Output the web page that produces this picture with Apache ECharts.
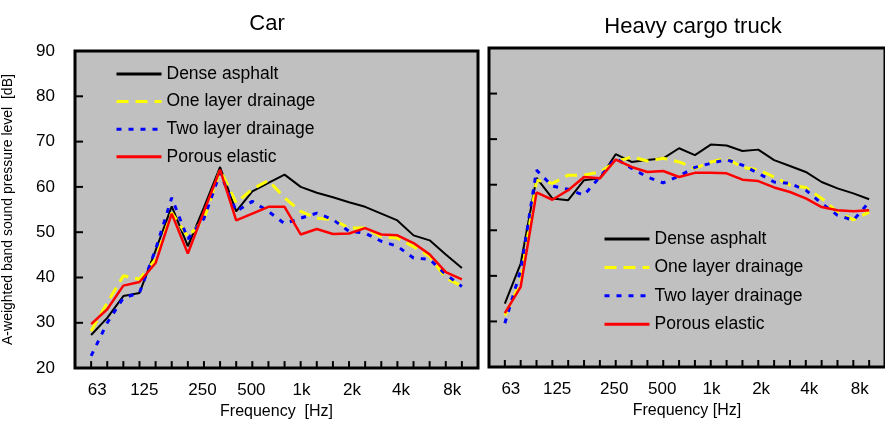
<!DOCTYPE html>
<html>
<head>
<meta charset="utf-8">
<script src="https://cdn.jsdelivr.net/npm/echarts@6/dist/echarts.min.js"></script>
<style>
  html, body { margin: 0; padding: 0; background: #fff; }
  #chart { width: 885px; height: 425px; }
</style>
</head>
<body>
<div id="chart"></div>
<script>
// 1/3-octave bands, 50 Hz .. 10 kHz
const bands = ['50', '63', '80', '100', '125', '160', '200', '250', '315', '400', '500', '630',
  '800', '1k', '1.25k', '1.6k', '2k', '2.5k', '3.15k', '4k', '5k', '6.3k', '8k', '10k'];
const tickLabels = ['63', '125', '250', '500', '1k', '2k', '4k', '8k'];
// the original labels sit a little off their bands (in band widths)
const labelShift = [-0.62, -0.7, -0.09, -0.06, 0.05, 0.18, 0.22, 0.4];
const yTicks = [30, 40, 50, 60, 70, 80];
const seriesNames = ['Dense asphalt', 'One layer drainage', 'Two layer drainage', 'Porous elastic'];

// Car
const carDense = [27.3, 31.1, 35.9, 36.6, 46.0, 55.7, 46.9, 55.5, 64.4, 54.6, 59.0, 60.9,
  62.7, 60.0, 58.7, 57.7, 56.6, 55.6, 54.1, 52.6, 49.3, 48.2, 45.1, 42.1];
const carOne = [28.2, 34.4, 40.4, 39.6, 44.0, 54.3, 49.0, 52.8, 63.8, 56.5, 59.5, 61.4,
  57.6, 54.6, 53.1, 52.8, 50.9, 50.9, 49.0, 48.7, 46.8, 44.7, 39.9, 38.1];
const carTwo = [22.7, 30.0, 35.5, 36.6, 46.2, 57.6, 48.5, 53.0, 63.1, 54.6, 56.8, 54.6,
  51.9, 53.1, 54.2, 52.8, 50.2, 49.8, 48.0, 46.9, 44.3, 44.0, 40.7, 38.0];
const carPorous = [29.7, 33.0, 38.2, 39.0, 43.2, 54.1, 45.3, 54.6, 63.8, 52.6, 54.1, 55.6,
  55.6, 49.5, 50.7, 49.6, 49.7, 50.9, 49.5, 49.3, 47.6, 45.1, 41.2, 39.6];

// Heavy cargo truck
const truckDense = [33.9, 42.7, 61.5, 57.0, 56.6, 61.0, 61.4, 66.7, 65.0, 65.4, 65.8, 68.0,
  66.5, 68.8, 68.6, 67.4, 67.7, 65.4, 64.1, 62.8, 60.6, 59.2, 58.1, 56.8];
const truckOne = [31.3, 38.6, 61.0, 60.3, 62.1, 62.1, 62.8, 65.0, 66.1, 65.2, 65.8, 65.0,
  63.6, 65.0, 65.8, 63.8, 63.3, 61.7, 59.9, 59.4, 57.0, 54.0, 52.3, 54.0];
const truckTwo = [29.6, 41.2, 63.2, 59.7, 59.0, 57.7, 61.7, 65.8, 63.6, 61.7, 60.4, 61.9,
  63.8, 64.7, 65.5, 64.3, 62.5, 60.6, 60.3, 58.8, 55.9, 53.3, 52.2, 56.2];
const truckPorous = [31.8, 37.6, 58.3, 56.7, 58.8, 61.7, 61.4, 65.5, 63.9, 62.8, 63.0, 61.7,
  62.6, 62.6, 62.5, 61.1, 60.8, 59.4, 58.4, 57.0, 55.1, 54.4, 54.2, 54.4];

const font = 'Liberation Sans, Arial, sans-serif';
const lineStyles = [
  { color: '#000000', width: 2, type: 'solid' },
  { color: '#ffff00', width: 3, type: [12, 7] },
  { color: '#0000ff', width: 3, type: [5, 7] },
  { color: '#ff0000', width: 2.5, type: 'solid' }
];

const labelPos = tickLabels.map((t, k) => bands.indexOf(t) + labelShift[k]);

function labelFor(v) {
  let best = 0;
  labelPos.forEach((p, k) => { if (Math.abs(p - v) < Math.abs(labelPos[best] - v)) best = k; });
  return Math.abs(labelPos[best] - v) < 0.01 ? tickLabels[best] : '';
}

function xAxisFor(gridIndex, name) {
  return {
    type: 'value', gridIndex, min: -1, max: 24, interval: 1,
    name, nameLocation: 'middle', nameGap: 34,
    nameTextStyle: { fontFamily: font, fontSize: 16, color: '#000' },
    axisLine: { show: false, onZero: false },
    axisTick: { show: false },
    axisLabel: { margin: 14, fontFamily: font, fontSize: 17, color: '#000',
      customValues: labelPos, formatter: labelFor },
    splitLine: { show: false }
  };
}

function yAxisFor(gridIndex, name) {
  return {
    type: 'value', gridIndex, min: 20, max: 90, interval: 10,
    name, nameLocation: 'middle', nameGap: 60,
    nameTextStyle: { fontFamily: font, fontSize: 14, color: '#000' },
    axisLine: { show: false, onZero: false },
    axisTick: { show: false },
    axisLabel: { show: !!name, margin: 20, fontFamily: font, fontSize: 17, color: '#000' },
    splitLine: { show: false }
  };
}

function lines(gridIndex, sets) {
  return sets.map((vals, k) => ({
    name: seriesNames[k], type: 'line',
    xAxisIndex: gridIndex, yAxisIndex: gridIndex,
    symbol: 'none', animation: false,
    lineStyle: lineStyles[k], itemStyle: { color: lineStyles[k].color },
    data: vals.map((v, i) => [i, v])
  }));
}

// inward tick marks on the bottom and left frame, placed through the axis scales
// (drawn on their own layer so nothing of the frame can cover them)
function ticks(gridIndex) {
  const data = bands.map((b, i) => [i, 20, 0, -1])
    .concat(yTicks.map(v => [-1, v, 1, 0]));
  return {
    name: 'ticks' + gridIndex, type: 'custom',
    xAxisIndex: gridIndex, yAxisIndex: gridIndex,
    silent: true, zlevel: 1, z: 100, clip: false, animation: false,
    data,
    renderItem: (params, api) => {
      const p = api.coord([api.value(0), api.value(1)]);
      const dx = api.value(2), dy = api.value(3);
      const len = dx ? 8 : 7;
      return {
        type: 'line',
        shape: { x1: p[0], y1: p[1], x2: p[0] + dx * len, y2: p[1] + dy * len },
        style: { stroke: '#000', lineWidth: 2 }
      };
    }
  };
}

function legendAt(left, top, gap) {
  return {
    orient: 'vertical', left, top, padding: 0,
    itemWidth: 45, itemHeight: 14, itemGap: gap, itemTextGap: 5,
    data: seriesNames,
    itemStyle: { opacity: 0 },
    lineStyle: { width: 3 },
    textStyle: { fontFamily: font, fontSize: 17.5, color: '#000', lineHeight: 20 }
  };
}

const chart = echarts.init(document.getElementById('chart'));
chart.setOption({
  backgroundColor: '#fff',
  animation: false,
  title: [
    { text: 'Car', left: 262, top: 8, textAlign: 'center',
      textStyle: { fontFamily: font, fontSize: 22, fontWeight: 'normal', color: '#000' } },
    { text: 'Heavy cargo truck', left: 688, top: 11, textAlign: 'center',
      textStyle: { fontFamily: font, fontSize: 22, fontWeight: 'normal', color: '#000' } }
  ],
  grid: [
    { left: 75, top: 51, width: 403, height: 318, show: true,
      backgroundColor: '#c0c0c0', borderColor: '#000', borderWidth: 3 },
    { left: 489, top: 48, width: 406, height: 319, show: true,
      backgroundColor: '#c0c0c0', borderColor: '#000', borderWidth: 3 }
  ],
  legend: [legendAt(115, 64, 7.6), legendAt(603, 229, 8.4)],
  xAxis: [xAxisFor(0, 'Frequency  [Hz]'), xAxisFor(1, 'Frequency [Hz]')],
  yAxis: [yAxisFor(0, 'A-weighted band sound pressure level  [dB]'), yAxisFor(1, '')],
  series: [
    ...lines(0, [carDense, carOne, carTwo, carPorous]),
    ...lines(1, [truckDense, truckOne, truckTwo, truckPorous]),
    ticks(0), ticks(1)
  ]
});
</script>
</body>
</html>
